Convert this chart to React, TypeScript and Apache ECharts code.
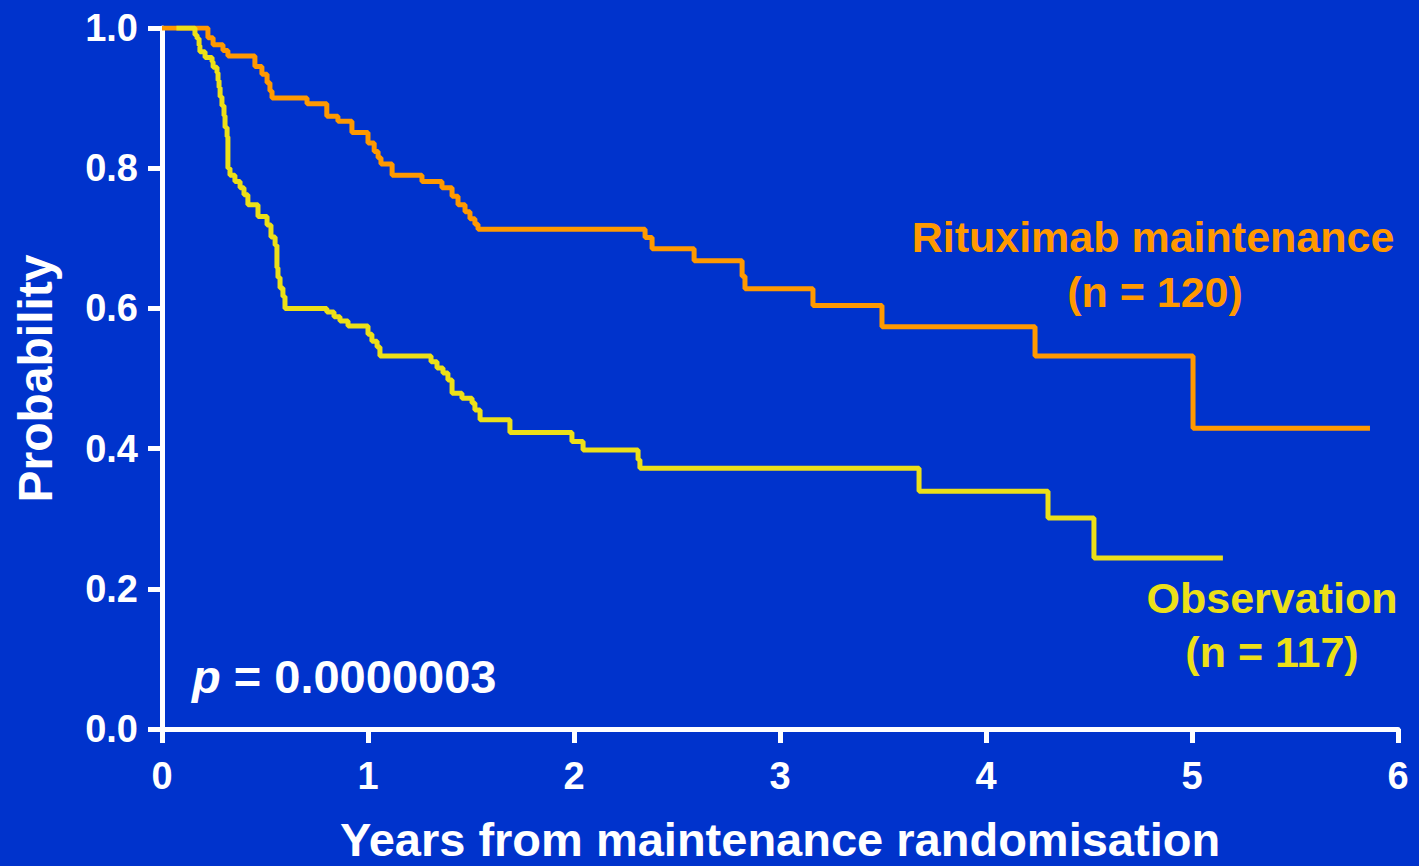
import React, { useEffect, useRef } from "react";
import * as echarts from "echarts";

// Kaplan–Meier step points: [years, probability after the step]
const rituximabTimes = [0, 0.223, 0.248, 0.296, 0.32, 0.451, 0.485, 0.51, 0.524, 0.534, 0.704, 0.8, 0.854, 0.922, 1.0, 1.03, 1.049, 1.063, 1.117, 1.262, 1.359, 1.408, 1.437, 1.471, 1.495, 1.519, 1.534, 2.345, 2.379, 2.583, 2.816, 2.83, 3.16, 3.495, 4.238, 5.005, 5.864];
const rituximabProb = [1.0, 0.986, 0.976, 0.968, 0.96, 0.945, 0.934, 0.922, 0.91, 0.9, 0.892, 0.874, 0.867, 0.851, 0.836, 0.824, 0.815, 0.806, 0.79, 0.781, 0.772, 0.76, 0.748, 0.738, 0.728, 0.72, 0.713, 0.701, 0.685, 0.668, 0.646, 0.628, 0.604, 0.574, 0.532, 0.429, 0.429];

const observationTimes = [0.07, 0.16, 0.17, 0.18, 0.184, 0.209, 0.243, 0.248, 0.267, 0.272, 0.277, 0.282, 0.291, 0.301, 0.306, 0.316, 0.32, 0.33, 0.354, 0.379, 0.398, 0.417, 0.466, 0.51, 0.529, 0.549, 0.558, 0.563, 0.573, 0.587, 0.597, 0.8, 0.835, 0.864, 0.903, 1.0, 1.019, 1.044, 1.058, 1.306, 1.335, 1.364, 1.388, 1.408, 1.456, 1.505, 1.519, 1.544, 1.689, 1.99, 2.044, 2.311, 2.32, 3.675, 4.301, 4.524, 5.15];
const observationProb = [1.0, 0.99, 0.985, 0.975, 0.966, 0.958, 0.952, 0.944, 0.936, 0.925, 0.915, 0.902, 0.889, 0.875, 0.858, 0.845, 0.8, 0.79, 0.781, 0.772, 0.762, 0.748, 0.731, 0.719, 0.702, 0.69, 0.658, 0.644, 0.629, 0.617, 0.6, 0.595, 0.588, 0.582, 0.575, 0.563, 0.553, 0.545, 0.532, 0.524, 0.515, 0.508, 0.498, 0.479, 0.472, 0.465, 0.455, 0.441, 0.423, 0.41, 0.398, 0.384, 0.372, 0.339, 0.301, 0.244, 0.244];

const xTicks = [0, 1, 2, 3, 4, 5, 6];
const yTicks = [0, 0.2, 0.4, 0.6, 0.8, 1.0];

const BG = "#0033cc";
const ORANGE = "#ff9900";
const YELLOW = "#ece018";
const FONT = "'Liberation Sans', Arial, Helvetica, sans-serif";

export default function App() {
  const ref = useRef<HTMLDivElement>(null);
  useEffect(() => {
    if (!ref.current) return;
    const chart = echarts.init(ref.current, null, { renderer: "svg" });
    const rit = rituximabTimes.map((t, i) => [t, rituximabProb[i]]);
    const obs = observationTimes.map((t, i) => [t, observationProb[i]]);
    const label = (x: number, y: number, text: string, fill: string) => ({
      type: "text",
      style: {
        x,
        y,
        text,
        fill,
        font: `bold 43px ${FONT}`,
        align: "center",
        verticalAlign: "middle",
      },
    });
    chart.setOption({
      animation: false,
      backgroundColor: BG,
      grid: {
        left: 162,
        right: 21,
        top: 28,
        bottom: 137,
        containLabel: false,
        outerBoundsMode: "none",
      },
      xAxis: {
        type: "value",
        min: xTicks[0],
        max: xTicks[xTicks.length - 1],
        interval: 1,
        name: "Years from maintenance randomisation",
        nameLocation: "middle",
        nameGap: 87,
        nameTextStyle: { color: "#ffffff", fontSize: 47, fontWeight: "bold", fontFamily: FONT },
        axisLine: { show: true, lineStyle: { color: "#ffffff", width: 5 } },
        axisTick: { show: true, length: 14, lineStyle: { color: "#ffffff", width: 5 } },
        axisLabel: { color: "#ffffff", fontSize: 38, fontWeight: "bold", fontFamily: FONT, margin: 28 },
        splitLine: { show: false },
      },
      yAxis: {
        type: "value",
        min: yTicks[0],
        max: yTicks[yTicks.length - 1],
        interval: 0.2,
        name: "Probability",
        nameLocation: "middle",
        nameGap: 103,
        nameTextStyle: { color: "#ffffff", fontSize: 48, fontWeight: "bold", fontFamily: FONT },
        axisLine: { show: true, lineStyle: { color: "#ffffff", width: 5 } },
        axisTick: { show: true, length: 14, lineStyle: { color: "#ffffff", width: 5 } },
        axisLabel: {
          color: "#ffffff",
          fontSize: 38,
          fontWeight: "bold",
          fontFamily: FONT,
          margin: 24,
          formatter: (v: number) => v.toFixed(1),
        },
        splitLine: { show: false },
      },
      series: [
        {
          name: "Rituximab maintenance",
          type: "line",
          step: "end",
          data: rit,
          showSymbol: false,
          lineStyle: { color: ORANGE, width: 5 },
          z: 2,
        },
        {
          name: "Observation",
          type: "line",
          step: "end",
          data: obs,
          showSymbol: false,
          lineStyle: { color: YELLOW, width: 5 },
          z: 3,
        },
      ],
      graphic: [
        label(1153, 237, "Rituximab maintenance", ORANGE),
        label(1155, 292, "(n = 120)", ORANGE),
        label(1272, 598, "Observation", YELLOW),
        label(1272, 652, "(n = 117)", YELLOW),
        {
          type: "text",
          style: {
            x: 192,
            y: 676,
            text: "{p|p} = 0.0000003",
            fill: "#ffffff",
            font: `bold 47px ${FONT}`,
            verticalAlign: "middle",
            rich: {
              p: { fontStyle: "italic", fontWeight: "bold", fontSize: 47, fontFamily: FONT, fill: "#ffffff" },
            },
          },
        },
      ],
    });
    return () => chart.dispose();
  }, []);
  return (
    <div
      ref={ref}
      style={{ position: "fixed", left: 0, top: 0, width: 1419, height: 866 }}
    />
  );
}
